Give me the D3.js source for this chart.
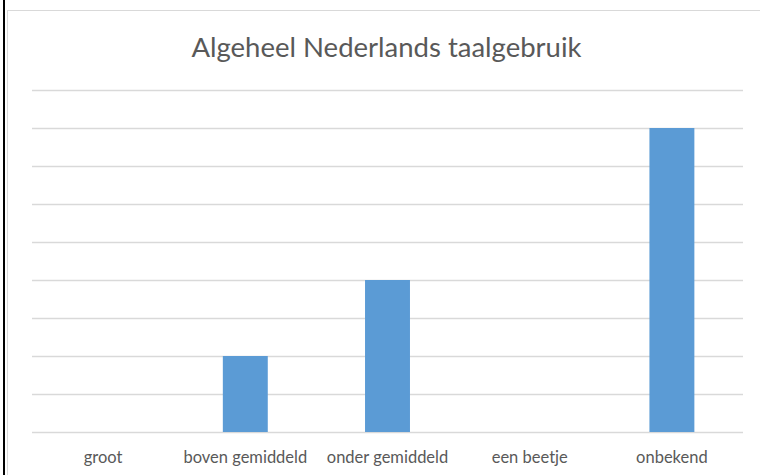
<!DOCTYPE html>
<html>
<head>
<meta charset="utf-8">
<script src="https://cdn.jsdelivr.net/npm/d3@7"></script>
<style>
html,body{margin:0;padding:0;background:#fff;}
svg{display:block;}
</style>
</head>
<body>
<svg id="chart" width="760" height="475"></svg>
<script>
const categories = ["groot", "boven gemiddeld", "onder gemiddeld", "een beetje", "onbekend"];
const values = [0, 2, 4, 0, 8];
const yTicks = [0, 1, 2, 3, 4, 5, 6, 7, 8, 9];
const title = "Algeheel Nederlands taalgebruik";

const svg = d3.select("#chart");
const W = 760, H = 475;
const plot = {left: 32, right: 743, top: 90, bottom: 432};

// outer frame
svg.append("line").attr("x1", 4).attr("x2", 4).attr("y1", 0).attr("y2", H)
  .attr("stroke", "#000").attr("stroke-width", 2);
svg.append("rect").attr("x", 7.5).attr("y", 10.5).attr("width", 800).attr("height", 600)
  .attr("fill", "none").attr("stroke", "#d9d9d9").attr("stroke-width", 1);

const x = d3.scaleBand().domain(categories).range([plot.left, plot.right]).paddingInner(0.684).paddingOuter(0.342);
const xc = d3.scaleBand().domain(categories).range([plot.left, plot.right]);
const y = d3.scaleLinear().domain([0, 9]).range([plot.bottom, plot.top]);

// gridlines
const yAxis = d3.axisLeft(y).tickValues(yTicks).tickSize(-(plot.right - plot.left)).tickFormat("");
const gy = svg.append("g").attr("transform", `translate(${plot.left},0)`).call(yAxis);
gy.select(".domain").remove();
gy.selectAll(".tick line").attr("stroke", "#d9d9d9").attr("stroke-width", 1.3);

// bars
svg.append("g").selectAll("rect").data(categories.map((c, i) => ({c, v: values[i]})))
  .join("rect")
  .attr("x", d => x(d.c))
  .attr("width", x.bandwidth())
  .attr("y", d => y(d.v))
  .attr("height", d => y(0) - y(d.v))
  .attr("fill", "#5b9bd5");

// x axis labels
const xAxis = d3.axisBottom(xc).tickSize(0).tickPadding(0);
const gx = svg.append("g").attr("transform", `translate(0,${plot.bottom})`).call(xAxis);
gx.select(".domain").remove();
gx.selectAll(".tick text")
  .attr("y", 31).attr("dy", 0)
  .attr("font-family", "Lato, 'Open Sans', sans-serif")
  .attr("font-size", 16.5)
  .attr("fill", "#595959");

// title
svg.append("text").attr("x", 386.5).attr("y", 57)
  .attr("text-anchor", "middle")
  .attr("font-family", "Lato, 'Open Sans', sans-serif")
  .attr("font-size", 27.5)
  .attr("fill", "#595959")
  .text(title);
</script>
</body>
</html>
